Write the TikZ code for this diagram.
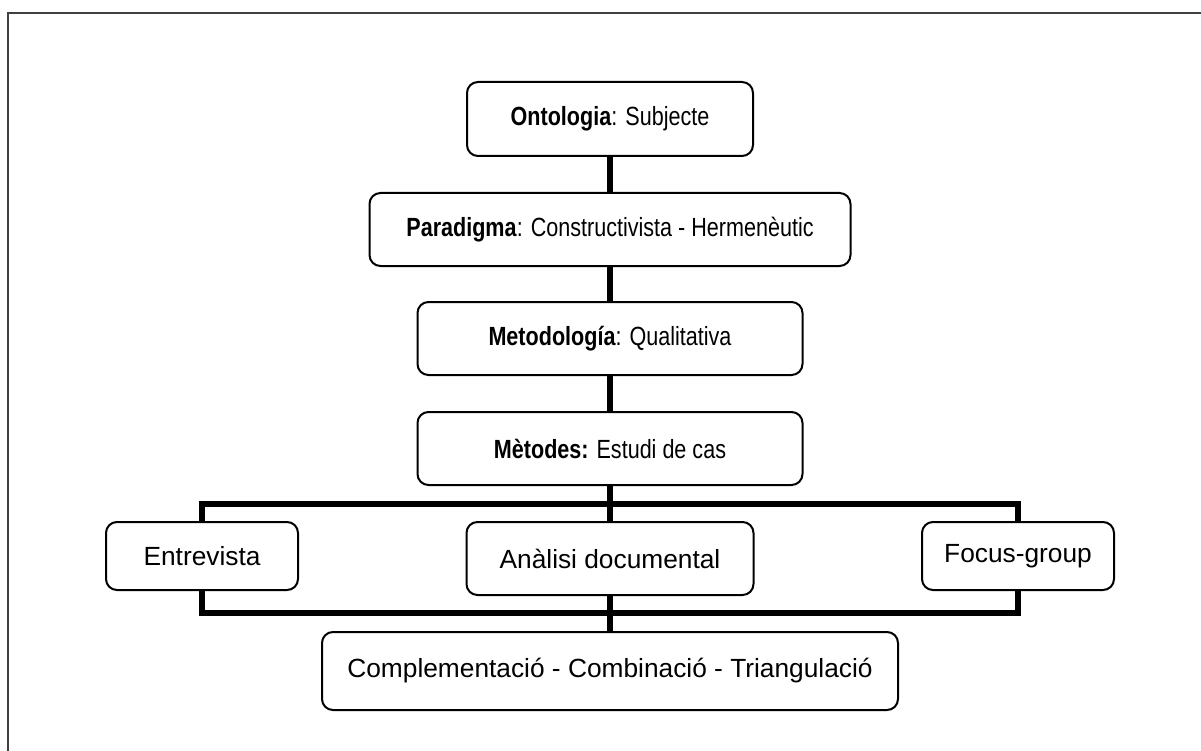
\documentclass[tikz,border=0pt]{standalone}
\usepackage{fontspec}
\setmainfont{Liberation Sans}
\newfontfamily\narrowfont[FakeStretch=0.82]{Liberation Sans}
\usetikzlibrary{backgrounds}
\begin{document}
\begin{tikzpicture}[x=1pt,y=-1pt,
  box/.style={draw=black,line width=2pt,rounded corners=11pt,fill=white,
    inner sep=0pt,font=\fontsize{26.3}{30}\selectfont},
  nbox/.style={box,font=\narrowfont\fontsize{26.3}{30}\selectfont},
  link/.style={line width=6pt,black},
  frameline/.style={line width=2.5pt,black!75}]
\useasboundingbox (0,0) rectangle (1201,751);
% outer frame
\coordinate (fbl) at (8,760);
\coordinate (ftl) at (8,13);
\coordinate (ftr) at (1210,13);
\draw[frameline] (fbl) -- (ftl) -- (ftr);
% bracket corners
\coordinate (brtl) at (202,504);
\coordinate (brbr) at (1018,613);
\draw[link] (brtl) rectangle (brbr);
% nodes
\node[nbox,minimum width=286pt,minimum height=74pt] (ont) at (610,119) {\textbf{Ontologia}: Subjecte};
\node[nbox,minimum width=481pt,minimum height=73pt] (par) at (610,229.5) {\textbf{Paradigma}: Constructivista - Hermenèutic};
\node[nbox,minimum width=385pt,minimum height=73pt] (met) at (610,338.5) {\textbf{Metodología}: Qualitativa};
\node[nbox,minimum width=385pt,minimum height=73pt] (mets) at (610,448.5) {\textbf{Mètodes:} Estudi de cas};
\node[box,minimum width=192pt,minimum height=68pt] (ent) at (202,556) {Entrevista};
\node[box,minimum width=287pt,minimum height=73pt] (ana) at (610,558.5) {Anàlisi documental};
\node[box,minimum width=192pt,minimum height=68pt] (foc) at (1018,556) {Focus-group};
\node[box,minimum width=576pt,minimum height=78pt] (com) at (610,671) {Complementació - Combinació - Triangulació};
% connectors
\draw[link] (ont.south) -- (par.north);
\draw[link] (par.south) -- (met.north);
\draw[link] (met.south) -- (mets.north);
\draw[link] (mets.south) -- (ana.north);
\draw[link] (ana.south) -- (com.north);
\end{tikzpicture}
\end{document}
